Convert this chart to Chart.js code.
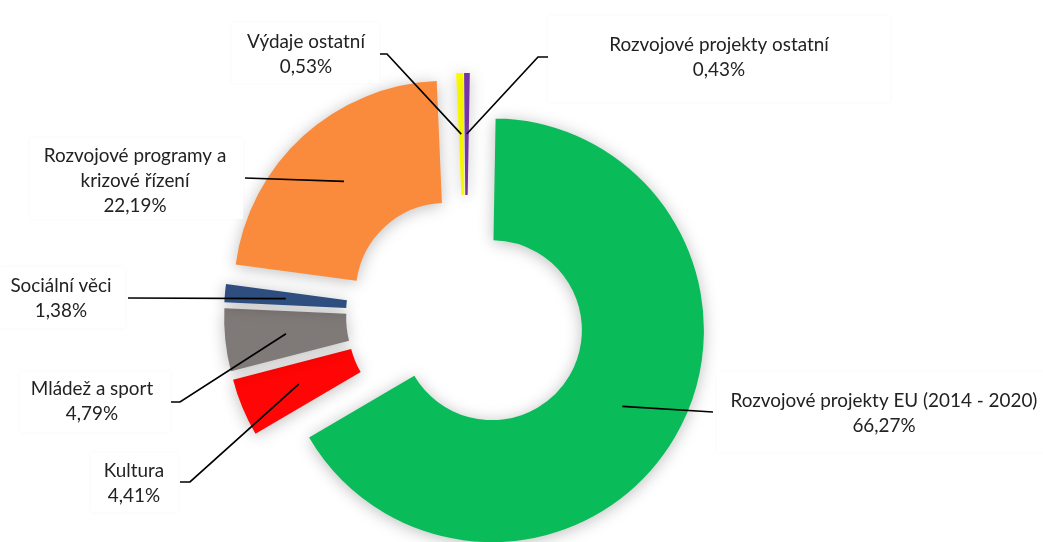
<!DOCTYPE html>
<html>
<head>
<meta charset="utf-8">
<script src="https://cdn.jsdelivr.net/npm/chart.js@4/dist/chart.umd.min.js"></script>
<style>
html,body{margin:0;padding:0;background:#fff;overflow:hidden}
#wrap{position:relative;width:1043px;height:542px}
</style>
</head>
<body>
<div id="wrap"><canvas id="c"></canvas></div>
<script>
// ─── DATA ────────────────────────────────────────────────────────────────────
const CATEGORIES=['Rozvojové projekty EU (2014 - 2020)','Kultura','Mládež a sport','Sociální věci','Rozvojové programy a krizové řízení','Výdaje ostatní','Rozvojové projekty ostatní'];
const LABEL_LINES=[['Rozvojové projekty EU (2014 - 2020)'],['Kultura'],['Mládež a sport'],['Sociální věci'],['Rozvojové programy a','krizové řízení'],['Výdaje ostatní'],['Rozvojové projekty ostatní']];
const SHARES=[66.27,4.41,4.79,1.38,22.19,0.53,0.43];
const COLORS=['#09BB59','#FF0505','#7F7978','#2F4E80','#FA8A3C','#FFFF00','#7434A3'];

// ─── LABEL LAYOUT (text centre x, first baseline, box, leader points) ───────
const LABEL_POS=[
  {cx:884,by:407,box:[717,372,326,80],lead:[[713,412]]},
  {cx:134,by:477,box:[91,453,87,59],lead:[[180,482],[190,482]]},
  {cx:92,by:395,box:[20,372,150,60],lead:[[171,402],[180,402]]},
  {cx:61,by:292,box:[0,267,125,61],lead:[[128,298]]},
  {cx:135,by:162,box:[30,138,213,81],lead:[[245,178]]},
  {cx:306,by:48,box:[232,23,147,60],lead:[[380,54],[387,54]]},
  {cx:719,by:51,box:[548,16,342,86],lead:[[548,57],[538,57]]}
];
const EXPLODE=30, LINE_H=25, FONT='Lato';

const pctText=v=>v.toFixed(2).replace('.',',')+'%';

// move every slice outward along its own mid angle
const explode={id:'explode',afterDatasetUpdate(chart,args){
  for(const a of args.meta.data){const h=(a.startAngle+a.endAngle)/2; a.x+=Math.cos(h)*EXPLODE; a.y+=Math.sin(h)*EXPLODE;}
}};

const shadow={id:'shadow',
  beforeDatasetsDraw(chart){const c=chart.ctx;c.save();c.shadowColor='rgba(0,0,0,0.26)';c.shadowBlur=16;c.shadowOffsetY=2;},
  afterDatasetsDraw(chart){chart.ctx.restore();}
};

const labels={id:'labels',afterDraw(chart){
  const ctx=chart.ctx, arcs=chart.getDatasetMeta(0).data;
  ctx.save();
  ctx.font=`100px ${FONT}`;
  const fs=100*307/ctx.measureText(LABEL_LINES[0][0]).width;
  // boxes
  LABEL_POS.forEach(p=>{
    ctx.save();ctx.shadowColor='rgba(0,0,0,0.035)';ctx.shadowBlur=5;ctx.fillStyle='#fff';
    ctx.fillRect(...p.box);ctx.restore();
  });
  // leader lines
  ctx.strokeStyle='#000';ctx.lineWidth=1.7;
  LABEL_POS.forEach((p,i)=>{
    const a=arcs[i].getCenterPoint();
    ctx.beginPath();ctx.moveTo(...p.lead[0]);
    for(let k=1;k<p.lead.length;k++)ctx.lineTo(...p.lead[k]);
    ctx.lineTo(a.x,a.y);ctx.stroke();
  });
  // texts
  ctx.fillStyle='#222';ctx.textAlign='center';ctx.textBaseline='alphabetic';
  ctx.font=`${fs.toFixed(2)}px ${FONT}`;
  LABEL_POS.forEach((p,i)=>{
    const lines=[...LABEL_LINES[i],pctText(SHARES[i])];
    lines.forEach((t,k)=>ctx.fillText(t,p.cx,p.by+k*LINE_H));
  });
  ctx.restore();
}};

new Chart(document.getElementById('c'),{
  type:'doughnut',
  data:{labels:CATEGORIES,datasets:[{data:SHARES,backgroundColor:COLORS,borderWidth:0,hoverOffset:0}]},
  options:{
    responsive:true,maintainAspectRatio:false,animation:false,
    rotation:1,radius:212,cutout:'42.45%',
    layout:{padding:{left:0,right:111,top:88,bottom:0}},
    plugins:{legend:{display:false},tooltip:{enabled:false}}
  },
  plugins:[explode,shadow,labels]
});
</script>
</body>
</html>
